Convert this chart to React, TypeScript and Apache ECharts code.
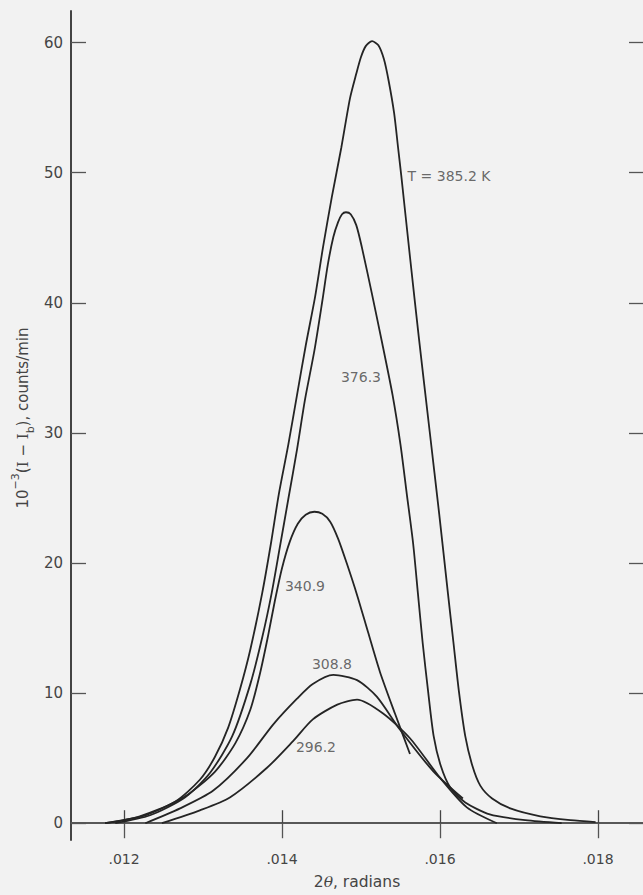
import React, { useEffect, useRef } from "react";
import * as echarts from "echarts";

// Tick positions on the two axes
const xTicks = [0.012, 0.014, 0.016, 0.018];
const yTicks = [0, 10, 20, 30, 40, 50, 60];

// Scattered intensity, 10^-3 (I - Ib) counts/min, against 2θ in radians
const t3852: [number, number][] = [
  [0.01176, 0], [0.0122, 0.53], [0.01265, 1.67], [0.01296, 3.34], [0.01315, 5.09],
  [0.01332, 7.37], [0.01347, 10.33], [0.0136, 13.37], [0.01375, 17.71], [0.01386, 21.5],
  [0.01396, 25.3], [0.01408, 29.1], [0.01419, 32.9], [0.0143, 36.7], [0.01442, 40.5],
  [0.01452, 44.3], [0.01463, 48.1], [0.01475, 51.9], [0.01486, 55.7], [0.01494, 57.6],
  [0.015, 58.89], [0.01506, 59.73], [0.01514, 60.11], [0.01522, 59.8], [0.01529, 58.74],
  [0.01535, 57.07], [0.01542, 54.56], [0.01547, 51.9], [0.01551, 49.77], [0.01562, 43.54],
  [0.01573, 37.46], [0.01587, 30.09], [0.01599, 23.78], [0.0161, 17.71], [0.01617, 13.91],
  [0.01624, 10.11], [0.01632, 6.69], [0.01641, 4.41], [0.01651, 2.89], [0.01666, 1.9],
  [0.01689, 1.14], [0.01727, 0.53], [0.01765, 0.23], [0.01797, 0.08],
];

const t3763: [number, number][] = [
  [0.01189, 0], [0.01233, 0.61], [0.01277, 1.98], [0.01309, 3.88], [0.01337, 6.69],
  [0.0136, 10.71], [0.01375, 14.29], [0.01387, 17.71], [0.01397, 21.12], [0.01408, 24.92],
  [0.01419, 28.72], [0.01429, 32.52], [0.01441, 36.32], [0.01451, 40.12], [0.01458, 42.93],
  [0.01465, 45.06], [0.01471, 46.2], [0.01476, 46.81], [0.01481, 46.96], [0.01487, 46.81],
  [0.01494, 45.97], [0.01501, 44.3], [0.01514, 40.65], [0.01527, 36.85], [0.0154, 32.9],
  [0.0155, 29.1], [0.01558, 25.3], [0.01566, 21.5], [0.01572, 17.71], [0.01578, 13.91],
  [0.01585, 10.11], [0.01592, 6.69], [0.01601, 4.41], [0.01613, 2.74], [0.01632, 1.6],
  [0.01663, 0.68], [0.01708, 0.23], [0.01754, 0],
];

const t3409: [number, number][] = [
  [0.01176, 0], [0.01227, 0.61], [0.01277, 2.05], [0.01315, 3.95], [0.01341, 6.16],
  [0.0136, 8.74], [0.01372, 11.47], [0.01382, 14.29], [0.01391, 17.1], [0.014, 19.6],
  [0.0141, 21.66], [0.0142, 23.02], [0.0143, 23.71], [0.01441, 23.94], [0.01451, 23.78],
  [0.01461, 23.18], [0.01471, 21.88], [0.01482, 19.98], [0.01495, 17.55], [0.01509, 14.67],
  [0.01524, 11.63], [0.01543, 8.43], [0.01562, 5.32],
];

const t3088: [number, number][] = [
  [0.01227, 0], [0.01271, 1.14], [0.01313, 2.51], [0.01356, 5.02], [0.01389, 7.6],
  [0.01419, 9.57], [0.01439, 10.7], [0.01465, 11.4], [0.01495, 11.0], [0.0152, 9.73],
  [0.01549, 7.22], [0.01591, 4.03], [0.01629, 1.9],
];

const t2962: [number, number][] = [
  [0.01248, 0], [0.01296, 0.99], [0.01334, 1.98], [0.01381, 4.26], [0.01414, 6.31],
  [0.01439, 7.98], [0.0147, 9.12], [0.01495, 9.5], [0.01528, 8.43], [0.01562, 6.53],
  [0.016, 3.5], [0.01634, 1.22], [0.01672, 0],
];

// Temperature labels beside each curve
const curveLabels = [
  { name: "T = 385.2 K", value: [0.016114, 49.77] },
  { name: "376.3", value: [0.015, 34.27] },
  { name: "340.9", value: [0.014291, 18.24] },
  { name: "308.8", value: [0.014633, 12.23] },
  { name: "296.2", value: [0.01443, 5.85] },
];

const curves = [t3852, t3763, t3409, t3088, t2962];

const INK = "#242424";
const TEXT = "#454545";
const FONT = "DejaVu Sans";

export default function App() {
  const ref = useRef<HTMLDivElement>(null);

  useEffect(() => {
    document.body.style.margin = "0";
    document.body.style.background = "#f2f2f2";
    const chart = echarts.init(ref.current!, null, { renderer: "svg" });

    const xMin = 0.011329;
    const xMax = 0.01857;
    const yMin = -1.29;
    const yMax = 62.43;

    chart.setOption({
      animation: false,
      backgroundColor: "#f2f2f2",
      grid: { left: 71, top: 11, right: 0, bottom: 45, containLabel: false },
      xAxis: [
        {
          type: "value",
          position: "bottom",
          min: xMin,
          max: xMax,
          splitLine: { show: false },
          axisLine: { show: true, lineStyle: { color: "#333", width: 2 } },
          axisTick: {
            show: true,
            inside: true,
            length: 13,
            customValues: xTicks,
            lineStyle: { color: "#444", width: 1.3 },
          },
          axisLabel: {
            show: true,
            customValues: xTicks,
            margin: 12,
            color: TEXT,
            fontFamily: FONT,
            fontSize: 14,
            formatter: (v: number) => v.toFixed(3).slice(1),
          },
          name: "{n|2}{i|θ}{n|, radians}",
          nameLocation: "middle",
          nameGap: 34,
          nameTextStyle: {
            rich: {
              n: { fontFamily: FONT, fontSize: 15.5, color: TEXT },
              i: { fontFamily: "DejaVu Serif", fontStyle: "italic", fontSize: 15.5, color: TEXT },
            },
          },
        },
        {
          type: "value",
          position: "top",
          min: xMin,
          max: xMax,
          splitLine: { show: false },
          axisLine: { show: true, lineStyle: { color: "#666", width: 1.5 } },
          axisTick: {
            show: true,
            inside: true,
            length: 15,
            customValues: xTicks,
            lineStyle: { color: "#555", width: 1.3 },
          },
          axisLabel: { show: false },
        },
      ],
      yAxis: [
        {
          type: "value",
          position: "left",
          min: yMin,
          max: yMax,
          splitLine: { show: false },
          axisLine: { show: true, lineStyle: { color: "#444", width: 2 } },
          axisTick: {
            show: true,
            inside: true,
            length: 15,
            customValues: yTicks,
            lineStyle: { color: "#555", width: 1.3 },
          },
          axisLabel: {
            show: true,
            customValues: yTicks,
            margin: 8,
            color: TEXT,
            fontFamily: FONT,
            fontSize: 15,
          },
        },
        {
          type: "value",
          position: "right",
          min: yMin,
          max: yMax,
          splitLine: { show: false },
          axisLine: { show: false },
          axisTick: {
            show: true,
            inside: true,
            length: 14,
            customValues: yTicks,
            lineStyle: { color: "#555", width: 1.3 },
          },
          axisLabel: { show: false },
        },
      ],
      series: [
        ...curves.map((data) => ({
          type: "line",
          data,
          xAxisIndex: 0,
          yAxisIndex: 0,
          showSymbol: false,
          smooth: 0.25,
          lineStyle: { color: INK, width: 1.8 },
          silent: true,
        })),
        {
          type: "scatter",
          xAxisIndex: 0,
          yAxisIndex: 0,
          data: curveLabels,
          symbolSize: 1,
          itemStyle: { color: "rgba(0,0,0,0)" },
          silent: true,
          label: {
            show: true,
            position: "inside",
            formatter: (p: any) => p.name,
            color: TEXT,
            fontFamily: FONT,
            fontSize: 14,
          },
        },
      ],
      graphic: [
        {
          type: "text",
          x: 23,
          y: 418,
          rotation: Math.PI / 2,
          style: {
            text: "{n|10}{sup|−3}{n|(}{i|I}{n| − }{i|I}{sub|b}{n|), counts/min}",
            align: "center",
            verticalAlign: "middle",
            fill: TEXT,
            rich: {
              n: { fontFamily: FONT, fontSize: 15, fill: TEXT, lineHeight: 26 },
              i: { fontFamily: "DejaVu Serif", fontSize: 15, fill: TEXT, lineHeight: 26 },
              sup: { fontFamily: FONT, fontSize: 11, fill: TEXT, verticalAlign: "top", lineHeight: 11 },
              sub: { fontFamily: FONT, fontSize: 11, fill: TEXT, verticalAlign: "bottom", lineHeight: 11 },
            },
          },
        },
      ],
    });

    return () => chart.dispose();
  }, []);

  return <div ref={ref} style={{ width: 643, height: 895 }} />;
}
